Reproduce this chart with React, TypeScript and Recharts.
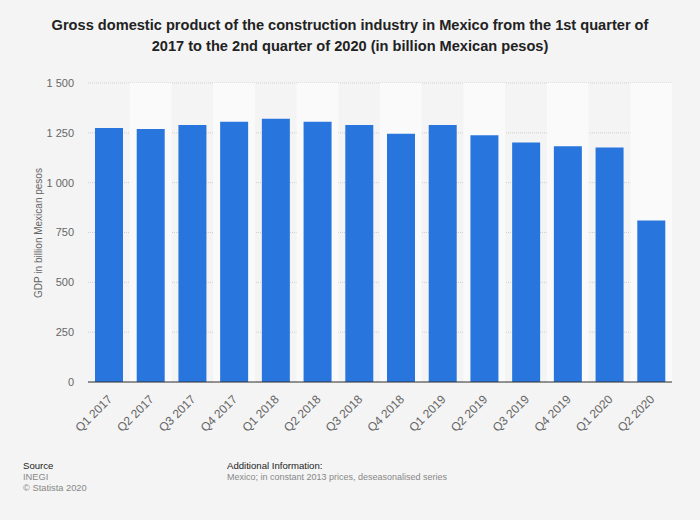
import React from "react";
import {
  BarChart,
  Bar,
  XAxis,
  YAxis,
  CartesianGrid,
  ReferenceArea,
} from "recharts";

const quarters = [
  "Q1 2017",
  "Q2 2017",
  "Q3 2017",
  "Q4 2017",
  "Q1 2018",
  "Q2 2018",
  "Q3 2018",
  "Q4 2018",
  "Q1 2019",
  "Q2 2019",
  "Q3 2019",
  "Q4 2019",
  "Q1 2020",
  "Q2 2020",
];
const gdpValues = [
  1274, 1269, 1289, 1306, 1321, 1306, 1289, 1246, 1289, 1238, 1201, 1183,
  1176, 810,
];
const yTicks = [0, 250, 500, 750, 1000, 1250, 1500];

const data = quarters.map((quarter, i) => ({ quarter, gdp: gdpValues[i] }));

const font = '"Liberation Sans", Arial, sans-serif';

// thousands with a space, like "1 250"
const formatTick = (v: number) =>
  String(v).replace(/\B(?=(\d{3})+(?!\d))/g, " ");

const XTick = (props: any) => {
  const { x, y, payload } = props;
  return (
    <g transform={`translate(${x + 4},${y + 10})`}>
      <text
        textAnchor="end"
        transform="rotate(-45)"
        fontSize={12}
        fill="#666"
        fontFamily={font}
      >
        {payload.value}
      </text>
    </g>
  );
};

const App = () => {
  return (
    <div
      style={{
        position: "absolute",
        left: 0,
        top: 0,
        width: 700,
        height: 520,
        background: "#f4f4f4",
        fontFamily: font,
        overflow: "hidden",
      }}
    >
      <div
        style={{
          position: "absolute",
          top: 15,
          left: 0,
          width: 700,
          textAlign: "center",
          fontWeight: "bold",
          fontSize: 14.6,
          lineHeight: "21px",
          color: "#222",
        }}
      >
        Gross domestic product of the construction industry in Mexico from the
        1st quarter of
        <br />
        2017 to the 2nd quarter of 2020 (in billion Mexican pesos)
      </div>

      <div style={{ position: "absolute", left: 0, top: 0 }}>
        <BarChart
          width={700}
          height={520}
          data={data}
          margin={{ top: 83, right: 28, bottom: 78, left: 0 }}
        >
          {quarters
            .filter((_, i) => i % 2 === 1)
            .map((q) => (
              <ReferenceArea
                key={q}
                x1={q}
                x2={q}
                fill="#fafafa"
                fillOpacity={1}
                stroke="none"
              />
            ))}
          <CartesianGrid
            vertical={false}
            stroke="#cfcfcf"
            strokeDasharray="1 1"
          />
          <XAxis
            dataKey="quarter"
            interval={0}
            height={60}
            tickLine={false}
            axisLine={{ stroke: "#333", strokeWidth: 1 }}
            tick={<XTick />}
          />
          <YAxis
            width={88}
            domain={[0, 1500]}
            ticks={yTicks}
            tickFormatter={formatTick}
            axisLine={false}
            tickLine={false}
            tickSize={0}
            tickMargin={14}
            tick={{ fontSize: 11, fill: "#666", fontFamily: font }}
          />
          <Bar
            dataKey="gdp"
            fill="#2876dd"
            barSize={28}
            isAnimationActive={false}
          />
        </BarChart>
      </div>

      <div
        style={{
          position: "absolute",
          left: 38,
          top: 233,
          transform: "translate(-50%, -50%) rotate(-90deg)",
          fontSize: 10,
          color: "#666",
          whiteSpace: "nowrap",
        }}
      >
        GDP in billion Mexican pesos
      </div>

      <div
        style={{
          position: "absolute",
          left: 23,
          top: 460,
          fontSize: 9.3,
          lineHeight: "11.5px",
        }}
      >
        <div style={{ color: "#222", fontSize: 9.6 }}>Source</div>
        <div style={{ color: "#888" }}>INEGI</div>
        <div style={{ color: "#888" }}>© Statista 2020</div>
      </div>
      <div
        style={{
          position: "absolute",
          left: 227,
          top: 460,
          fontSize: 9,
          lineHeight: "11.5px",
        }}
      >
        <div style={{ color: "#222", fontSize: 9.6 }}>Additional Information:</div>
        <div style={{ color: "#888" }}>
          Mexico; in constant 2013 prices, deseasonalised series
        </div>
      </div>
    </div>
  );
};

export default App;
